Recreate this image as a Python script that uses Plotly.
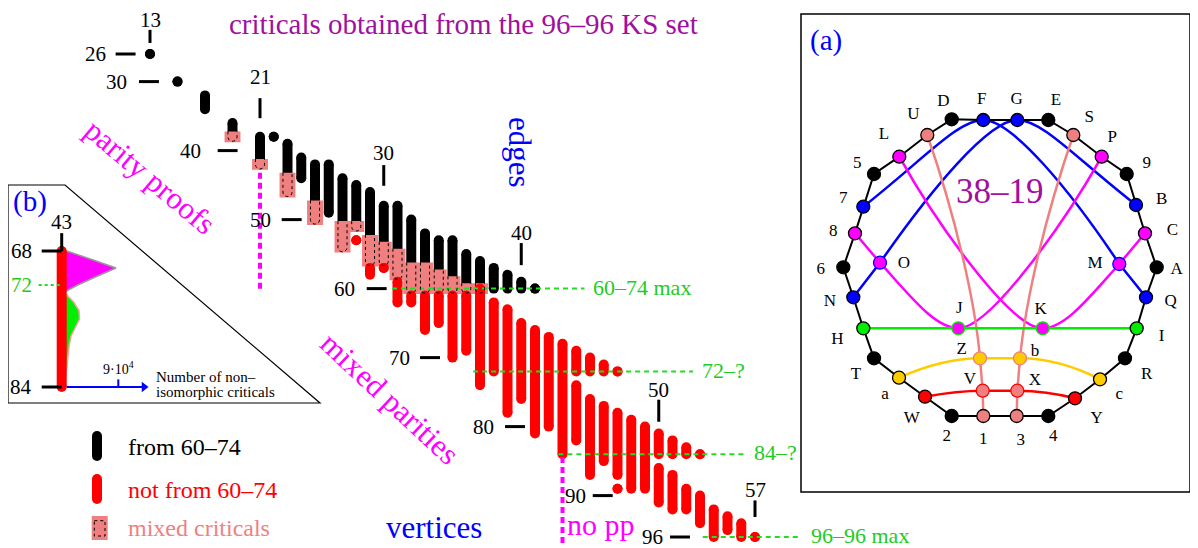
import plotly.graph_objects as go

# ---------------- main staircase data (column = edges, vertical extent = vertices) ----------------
black_e  = [13, 15, 17, 19, 21, 22, 23, 24, 25, 26, 27, 28, 29, 30, 31, 32, 33, 34, 35, 36, 37, 38, 39, 40, 41]
black_lo = [26, 30, 32, 36, 38, 38, 39, 41, 42, 42, 44, 45, 46, 48, 48, 50, 52, 53, 53, 55, 56, 57, 58, 59, 60]
black_hi = [26, 30, 34, 38, 42, 38, 46, 44, 50, 49, 54, 51, 56, 56, 58, 60, 60, 60, 60, 60, 60, 60, 60, 60, 60]

pink_e  = [19, 21, 23, 25, 27, 28, 29, 30, 31, 32, 33, 34, 35, 36, 37]
pink_lo = [38, 42, 44, 48, 51, 51, 53, 54, 55, 57, 57, 58, 59, 60, 60]
pink_hi = [38, 42, 46, 50, 54, 51, 56, 56, 58, 60, 60, 60, 60, 60, 60]

red_e  = [28, 29, 30, 31, 32, 33, 34, 35, 36, 37, 38, 39, 40, 41, 42, 43, 44, 44, 45, 45, 46, 46, 47, 47, 47,
          48, 49, 50, 50, 51, 51, 52, 52, 53, 53, 54, 55, 56, 57]
red_lo = [53, 57, 57, 59, 61, 61, 61, 61, 61, 60, 62, 63, 65, 66, 67, 68, 69, 74, 70, 76, 71, 77, 72, 78, 89,
          79, 80, 81, 86, 82, 87, 83, 89, 84, 90, 92, 93, 94, 96]
red_hi = [53, 58, 57, 62, 62, 66, 65, 70, 69, 74, 72, 78, 76, 81, 80, 84, 72, 82, 72, 87, 72, 85, 72, 87, 89,
          89, 89, 84, 91, 84, 92, 84, 92, 84, 94, 96, 95, 96, 96]

vtick_vals = [26, 30, 40, 50, 60, 70, 80, 90, 96]
etick_vals = [13, 21, 30, 40, 50, 57]

gline_v    = [60, 72, 84, 96]
gline_text = ["60\u201374 max", "72\u2013?", "84\u2013?", "96\u201396 max"]

# ---------------- panel (b) data ----------------
b_bar_v = [68, 84]
b_mag_v = [68, 69, 70, 71, 72, 73]
b_mag_n = [8000, 47700, 86300, 55200, 25400, 0]
b_grn_v = [73, 74, 75, 76, 77, 78, 79, 80, 81, 82, 83, 84]
b_grn_n = [6000, 18800, 27500, 28300, 21900, 14800, 12100, 10500, 8400, 7000, 6000, 5000]
b_tick_n = 90000

# ---------------- panel (a) graph data ----------------
ring_names = ["D", "F", "G", "E", "S", "P", "9", "B", "C", "A", "Q", "I", "R", "c", "Y",
              "4", "3", "1", "2", "W", "a", "T", "H", "N", "6", "8", "7", "5", "L", "U"]
inner_names = ["O", "M", "J", "K", "Z", "b", "V", "X"]
node_xy = {
    "D": (951.7, 119.3), "F": (983.3, 120), "G": (1017.3, 120), "E": (1048.3, 120),
    "U": (927.3, 135), "S": (1073.3, 135), "L": (899.3, 156.7), "P": (1101.7, 156.7),
    "5": (874, 174), "9": (1126.7, 174), "7": (863.3, 206.7), "B": (1136, 205),
    "8": (855, 233.3), "C": (1145, 233.3), "6": (843.3, 267.3), "A": (1156.7, 267.3),
    "N": (853.3, 297.3), "Q": (1146, 297.3), "H": (863.3, 328.3), "I": (1136.7, 328.3),
    "T": (874, 358.3), "R": (1125, 358.3), "a": (899, 377.7), "c": (1100, 379.3),
    "W": (925, 396.7), "Y": (1075, 398.3), "2": (951.7, 416), "1": (983.3, 416),
    "3": (1016.7, 416), "4": (1048.3, 416),
    "O": (880, 262.7), "M": (1119.3, 264), "J": (958.3, 328.3), "K": (1042.7, 328.3),
    "Z": (980, 358.3), "b": (1020, 358.3), "V": (982.7, 390.7), "X": (1017.3, 390.7),
}
label_xy = {
    "D": (943.3, 101.7), "F": (981.7, 99.3), "G": (1016.7, 99.3), "E": (1056, 100.7),
    "U": (913.3, 115), "S": (1089.3, 117.3), "L": (884, 135), "P": (1112.3, 137.7),
    "5": (857.3, 163.3), "9": (1146.7, 163.3), "7": (843.3, 198.3), "B": (1161.7, 199.3),
    "8": (833.3, 231.7), "C": (1172.3, 230.7), "6": (820.7, 269.3), "A": (1176.7, 269.3),
    "O": (904, 263.3), "M": (1095, 264), "N": (830, 301.7), "Q": (1170.7, 301.7),
    "H": (837.3, 340), "I": (1161.7, 336.7), "J": (959.3, 308.3), "K": (1040.7, 310),
    "Z": (961.7, 350), "b": (1035, 351.7), "T": (856, 375), "R": (1146.7, 375),
    "V": (970, 380), "X": (1035, 380.7), "a": (885, 395), "c": (1119.3, 395),
    "W": (911.7, 419), "Y": (1096.7, 418.3), "2": (946.7, 436.7), "1": (983.3, 440),
    "3": (1020.7, 441), "4": (1053.3, 436.7),
}
BLUE, MAG, GRN, YEL, RED, SAL, BLK = "#0000FF", "#FF00FF", "#00EE00", "#FFCC00", "#FF0000", "#F08080", "#000000"
node_fill = {"D": BLK, "F": BLUE, "G": BLUE, "E": BLK, "S": SAL, "P": MAG, "9": BLK, "B": BLUE, "C": MAG,
             "A": BLK, "Q": BLUE, "I": GRN, "R": BLK, "c": YEL, "Y": RED, "4": BLK, "3": SAL, "1": SAL,
             "2": BLK, "W": RED, "a": YEL, "T": BLK, "H": GRN, "N": BLUE, "6": BLK, "8": MAG, "7": BLUE,
             "5": BLK, "L": MAG, "U": SAL,
             "O": MAG, "M": MAG, "J": MAG, "K": MAG, "Z": YEL, "b": YEL, "V": SAL, "X": SAL}
node_edge = {"O": BLUE, "M": BLUE, "J": GRN, "K": GRN, "Z": SAL, "b": SAL, "V": RED, "X": RED}

# ---------------- styling constants ----------------
SERIF = "Liberation Serif, Times New Roman, serif"
PINK = "#F08080"
GLINE = "#22DD22"
GTEXT = "#1ECB1E"
PURPLE = "#A0109F"

# page offset (the browser body margin places the figure at 8,8)
OFF = 8
W_PAGE, H_PAGE = 1198, 548

fig = go.Figure()

# main axes mapping (edge -> x, vertex -> y), expressed in page pixels
PX_E, PX_V = 13.75, 6.9
XR = [13 + (OFF - 150) / PX_E, 13 + (W_PAGE - 150) / PX_E]
YR = [26 + (H_PAGE - 54) / PX_V, 26 + (OFF - 54) / PX_V]


def bars(es, los, his, color, xa="x", ya="y", w=10):
    xs, ys, mx, my = [], [], [], []
    for e, lo, hi in zip(es, los, his):
        xs += [e, e, None]
        ys += [lo, hi, None]
        mx += [e, e]
        my += [lo, hi]
    fig.add_trace(go.Scatter(x=xs, y=ys, mode="lines", line=dict(color=color, width=w),
                             xaxis=xa, yaxis=ya, hoverinfo="skip"))
    fig.add_trace(go.Scatter(x=mx, y=my, mode="markers", marker=dict(color=color, size=w, line=dict(width=0)),
                             xaxis=xa, yaxis=ya, hoverinfo="skip"))


# black bars
bars(black_e, black_lo, black_hi, "#000000")

# pink mixed-critical blocks
px, py = [], []
for e, lo, hi in zip(pink_e, pink_lo, pink_hi):
    px += [e - 0.58, e + 0.58, e + 0.58, e - 0.58, e - 0.58, None]
    py += [lo - 0.78, lo - 0.78, hi + 0.78, hi + 0.78, lo - 0.78, None]
fig.add_trace(go.Scatter(x=px, y=py, mode="lines", fill="toself", fillcolor=PINK,
                         line=dict(width=0, color=PINK), hoverinfo="skip"))

# red bars
bars(red_e, red_lo, red_hi, "#FF0000")

shapes = []
# dotted outlines inside pink blocks
for e, lo, hi in zip(pink_e, pink_lo, pink_hi):
    a, b = e - 0.33, e + 0.33
    t = lo - 0.78
    shapes.append(dict(type="path", xref="x", yref="y", layer="above",
                       path=f"M {a},{t} L {a},{hi} C {a},{hi + 0.87} {b},{hi + 0.87} {b},{hi} L {b},{t}",
                       line=dict(color="black", width=1, dash="dot")))

# green reference lines
g_from = [30.6, 36.5, 42.7, 53.2]
g_to = [44.6, 52.5, 56.3, 60.4]
gx, gy = [], []
for v, a, b in zip(gline_v, g_from, g_to):
    gx += [a, b, None]
    gy += [v, v, None]
fig.add_trace(go.Scatter(x=gx, y=gy, mode="lines", line=dict(color=GLINE, width=2, dash="5px,4px"),
                         hoverinfo="skip"))
annotations = []
for v, b, txt in zip(gline_v, g_to, gline_text):
    annotations.append(dict(x=b + 0.5, y=v - 0.2, xref="x", yref="y", text=txt, showarrow=False,
                            xanchor="left", yanchor="middle", font=dict(family=SERIF, size=22, color=GTEXT)))

# magenta dotted separators
mx_, my_ = [21, 21, None, 43, 43], [43.2, 60.5, None, 84.4, 97.2]
fig.add_trace(go.Scatter(x=mx_, y=my_, mode="lines", line=dict(color=MAG, width=4, dash="6px,4px"),
                         hoverinfo="skip"))

# vertex ticks
vt_start = [10.5, 12.2, 17.92, 22.58, 28.76, 32.64, 38.82, 45.2, 50.82]
vt_lab = [9.97, 11.47, 16.83, 21.97, 28.03, 32.03, 38.14, 44.88, 50.45]
tx, ty = [], []
for v, s in zip(vtick_vals, vt_start):
    tx += [s, s + 1.45, None]
    ty += [v, v, None]
for v, l in zip(vtick_vals, vt_lab):
    annotations.append(dict(x=l, y=v, xref="x", yref="y", text=str(v), showarrow=False,
                            xanchor="right", yanchor="middle", font=dict(family=SERIF, size=21, color="black")))
# edge ticks
et_top = [22.5, 32.4, 42.1, 53.4, 76.1, 90.7]
et_bot = [24.4, 35.3, 45.1, 56.6, 79.3, 93.1]
et_lab = [21.07, 29.3, 40.3, 51.9, 74.7, 89.2]
for e, t, b in zip(etick_vals, et_top, et_bot):
    tx += [e, e, None]
    ty += [t, b, None]
for e, l in zip(etick_vals, et_lab):
    annotations.append(dict(x=e, y=l, xref="x", yref="y", text=str(e), showarrow=False,
                            xanchor="center", yanchor="middle", font=dict(family=SERIF, size=21, color="black")))
fig.add_trace(go.Scatter(x=tx, y=ty, mode="lines", line=dict(color="black", width=3), hoverinfo="skip"))


# ---------------- free texts (page-pixel axes) ----------------
def ptext(x, y, txt, size, color, angle=0, xanchor="center"):
    annotations.append(dict(x=x, y=y, xref="x2", yref="y2", text=txt, showarrow=False, textangle=angle,
                            xanchor=xanchor, yanchor="middle", font=dict(family=SERIF, size=size, color=color)))


ptext(463, 24, "criticals obtained from the 96\u201396 KS set", 29, PURPLE)
ptext(520, 152, "edges", 31, BLUE, angle=90)
ptext(150, 176, "parity proofs", 31, MAG, angle=40)
ptext(390, 398, "mixed parities", 31, MAG, angle=43)
ptext(434, 527, "vertices", 31, BLUE)
ptext(601, 524, "no pp", 30, MAG)

# ---------------- legend ----------------
leg_y = [446, 489]
bars([97], [leg_y[0] - 10], [leg_y[0] + 10], "#000000", xa="x2", ya="y2")
bars([97], [leg_y[1] - 10], [leg_y[1] + 10], "#FF0000", xa="x2", ya="y2")
shapes.append(dict(type="rect", xref="x2", yref="y2", x0=91.7, x1=107.7, y0=516, y1=540,
                   fillcolor=PINK, line=dict(width=0), layer="below"))
shapes.append(dict(type="rect", xref="x2", yref="y2", x0=94.3, x1=105, y0=520.7, y1=536,
                   line=dict(color="black", width=1, dash="dot"), layer="above"))
ptext(126, 447, "from 60\u201374", 24, "black", xanchor="left")
ptext(126, 490, "not from 60\u201374", 24, "#FF0000", xanchor="left")
ptext(126, 528, "mixed criticals", 24, PINK, xanchor="left")

# ---------------- panel (b) ----------------
B_PX0, B_PXU = 61.7, 56.6 / b_tick_n
B_V0, B_PV = 68, 8.5
X3R = [(OFF - B_PX0) / B_PXU, (W_PAGE - B_PX0) / B_PXU]
Y3R = [B_V0 + (H_PAGE - 251) / B_PV, B_V0 + (OFF - 251) / B_PV]
shapes.append(dict(type="path", xref="x2", yref="y2", layer="below",
                   path="M 8,185 L 65,185 L 320,403 L 8,403 Z", line=dict(color="black", width=1.2)))
fig.add_trace(go.Scatter(x=[0] + b_mag_n + [0], y=[b_mag_v[0]] + b_mag_v + [b_mag_v[-1]],
                         mode="lines", fill="toself", fillcolor=MAG, line=dict(color="#999999", width=1.5),
                         xaxis="x3", yaxis="y3", hoverinfo="skip"))
fig.add_trace(go.Scatter(x=[0] + b_grn_n + [0], y=[b_grn_v[0]] + b_grn_v + [b_grn_v[-1]],
                         mode="lines", fill="toself", fillcolor="#00EE00", line=dict(color="#F4A0A0", width=1.5),
                         xaxis="x3", yaxis="y3", hoverinfo="skip"))
bars([0], [b_bar_v[0]], [b_bar_v[1]], "#FF0000", xa="x3", ya="y3")
# ticks of panel (b)
tick_len = 20 / B_PXU
fig.add_trace(go.Scatter(x=[-tick_len, 0, None, -tick_len, 0, None, 0, 0],
                         y=[68, 68, None, 84, 84, None, 65.9, 68],
                         mode="lines", line=dict(color="black", width=3), xaxis="x3", yaxis="y3", hoverinfo="skip"))
fig.add_trace(go.Scatter(x=[-tick_len - 3 / B_PXU, 0], y=[72, 72], mode="lines",
                         line=dict(color=GLINE, width=2, dash="3px,3px"), xaxis="x3", yaxis="y3", hoverinfo="skip"))
# count axis arrow
ax0, ax1 = (66.7 - B_PX0) / B_PXU, (144 - B_PX0) / B_PXU
fig.add_trace(go.Scatter(x=[ax0, ax1, None, b_tick_n, b_tick_n], y=[84, 84, None, 83.1, 84], mode="lines",
                         line=dict(color=BLUE, width=2), xaxis="x3", yaxis="y3", hoverinfo="skip"))
fig.add_trace(go.Scatter(x=[ax1], y=[84], mode="markers", xaxis="x3", yaxis="y3", hoverinfo="skip",
                         marker=dict(symbol="triangle-right", size=9, color=BLUE, line=dict(width=0))))
for v, col in [(68, "black"), (72, GTEXT), (84, "black")]:
    annotations.append(dict(x=-(B_PX0 - 34) / B_PXU, y=v, xref="x3", yref="y3", text=str(v), showarrow=False,
                            xanchor="right", yanchor="middle", font=dict(family=SERIF, size=21, color=col)))
annotations.append(dict(x=0, y=64.6, xref="x3", yref="y3", text="43", showarrow=False,
                        xanchor="center", yanchor="middle", font=dict(family=SERIF, size=21, color="black")))
annotations.append(dict(x=b_tick_n, y=83.0, xref="x3", yref="y3", text="9\u00b710<sup>4</sup>", showarrow=False,
                        xanchor="center", yanchor="bottom", font=dict(family=SERIF, size=14, color="black")))
ptext(154, 377, "Number of non\u2013", 15, "black", xanchor="left")
ptext(154, 392, "isomorphic criticals", 15, "black", xanchor="left")
ptext(30, 201, "(b)", 29, BLUE)

# ---------------- panel (a) ----------------
shapes.append(dict(type="rect", xref="x2", yref="y2", x0=801, x1=1190, y0=14, y1=492,
                   line=dict(color="black", width=1.5), layer="below"))
curves = [
    ("M 863.3,206.7 C 925,158 958,120 983.3,120 C 1012,120 1070,190 1119.3,264 L 1146,297.3", BLUE),
    ("M 853.3,297.3 L 880,262.7 C 930.6,190 988.6,120 1017.3,120 C 1042.6,120 1075.6,158 1136,205", BLUE),
    ("M 855,233.3 L 880,262.7 C 912,298 935,328 958.3,328.3 C 990,328.6 1065,222 1101.7,156.7", MAG),
    ("M 1145,233.3 L 1119.3,264 C 1088.6,298 1065.6,328 1042.7,328.3 C 1010.6,328.6 935.6,222 899.3,156.7", MAG),
    ("M 927.3,135 C 955,215 975,300 980,358.3 L 982.7,390.7 L 983.3,416", SAL),
    ("M 1073.3,135 C 1045.6,215 1025.6,300 1020,358.3 L 1017.3,390.7 L 1016.7,416", SAL),
    ("M 863.3,328.3 L 1136.7,328.3", GRN),
    ("M 899,377.7 C 930,364 955,358.3 980,358.3 L 1020,358.3 C 1045,358.3 1070,364 1100,379.3", YEL),
    ("M 925,396.7 C 945,393 965,390.7 982.7,390.7 L 1017.3,390.7 C 1035,390.7 1055,393 1075,398.3", RED),
]
for p, c in curves:
    shapes.append(dict(type="path", xref="x2", yref="y2", layer="below", path=p, line=dict(color=c, width=2.5)))

ring_x = [node_xy[n][0] for n in ring_names] + [node_xy[ring_names[0]][0]]
ring_y = [node_xy[n][1] for n in ring_names] + [node_xy[ring_names[0]][1]]
fig.add_trace(go.Scatter(x=ring_x, y=ring_y, mode="lines", line=dict(color="black", width=2),
                         xaxis="x2", yaxis="y2", hoverinfo="skip"))
all_nodes = ring_names + inner_names
fig.add_trace(go.Scatter(x=[node_xy[n][0] for n in all_nodes], y=[node_xy[n][1] for n in all_nodes],
                         mode="markers", xaxis="x2", yaxis="y2", hoverinfo="skip",
                         marker=dict(size=13, color=[node_fill[n] for n in all_nodes],
                                     line=dict(width=1.3, color=[node_edge.get(n, "black") for n in all_nodes]))))
fig.add_trace(go.Scatter(x=[label_xy[n][0] for n in all_nodes], y=[label_xy[n][1] for n in all_nodes],
                         text=all_nodes, mode="text", xaxis="x2", yaxis="y2", hoverinfo="skip",
                         textfont=dict(family=SERIF, size=17, color="black")))
ptext(826, 40, "(a)", 29, BLUE)
ptext(1000, 191, "38\u201319", 35, PURPLE)

ax_hidden = dict(visible=False, showgrid=False, zeroline=False, fixedrange=True)
fig.update_layout(
    width=W_PAGE - OFF, height=H_PAGE - OFF, margin=dict(l=0, r=0, t=0, b=0),
    paper_bgcolor="white", plot_bgcolor="white", showlegend=False,
    xaxis=dict(range=XR, domain=[0, 1], **ax_hidden),
    yaxis=dict(range=YR, domain=[0, 1], **ax_hidden),
    xaxis2=dict(range=[OFF, W_PAGE], overlaying="x", anchor="y2", **ax_hidden),
    yaxis2=dict(range=[H_PAGE, OFF], overlaying="y", anchor="x2", **ax_hidden),
    xaxis3=dict(range=X3R, overlaying="x", anchor="y3", **ax_hidden),
    yaxis3=dict(range=Y3R, overlaying="y", anchor="x3", **ax_hidden),
    shapes=shapes, annotations=annotations,
)
fig.write_html("out.html")
